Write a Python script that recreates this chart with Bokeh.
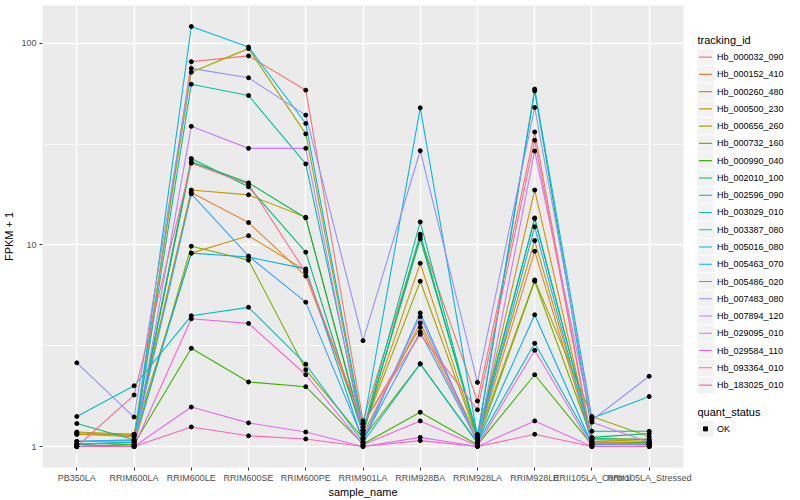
from bokeh.plotting import figure
from bokeh.models import Range1d, FixedTicker, BasicTickFormatter
from bokeh.layouts import row
from bokeh.embed import file_html
from bokeh.resources import INLINE
from bokeh.core.properties import value

# ---------------- data ----------------
categories = ["PB350LA", "RRIM600LA", "RRIM600LE", "RRIM600SE", "RRIM600PE",
              "RRIM901LA", "RRIM928BA", "RRIM928LA", "RRIM928LE",
              "RRII105LA_Control", "RRII105LA_Stressed"]

tracking_ids = ["Hb_000032_090", "Hb_000152_410", "Hb_000260_480", "Hb_000500_230",
                "Hb_000656_260", "Hb_000732_160", "Hb_000990_040", "Hb_002010_100",
                "Hb_002596_090", "Hb_003029_010", "Hb_003387_080", "Hb_005016_080",
                "Hb_005463_070", "Hb_005486_020", "Hb_007483_080", "Hb_007894_120",
                "Hb_029095_010", "Hb_029584_110", "Hb_093364_010", "Hb_183025_010"]

colors = ["#F8766D", "#EA8331", "#D89000", "#C09B00", "#A3A500", "#7CAE00", "#39B600",
          "#00BB4E", "#00BF7D", "#00C1A3", "#00BFC4", "#00BAE0", "#00B0F6", "#35A2FF",
          "#9590FF", "#C77CFF", "#E76BF3", "#FA62DB", "#FF62BC", "#FF6C91"]

# FPKM + 1 per tracking id, in category order
Hb_000032_090 = [1.00, 1.02, 81.0, 86.5, 58.5, 1.34, 11.0, 1.68, 36.3, 1.05, 1.03]
Hb_000152_410 = [1.15, 1.12, 18.2, 12.9, 7.0, 1.29, 3.9, 1.08, 9.3, 1.05, 1.05]
Hb_000260_480 = [1.15, 1.15, 9.1, 11.1, 7.45, 1.20, 8.1, 1.10, 18.7, 1.06, 1.04]
Hb_000500_230 = [1.17, 1.13, 18.7, 17.7, 13.7, 1.15, 4.1, 1.12, 10.5, 1.08, 1.06]
Hb_000656_260 = [1.18, 1.15, 71.8, 94.0, 35.5, 1.21, 6.6, 1.10, 6.7, 1.41, 1.12]
Hb_000732_160 = [1.00, 1.02, 9.85, 8.4, 2.4, 1.10, 2.57, 1.05, 6.6, 1.09, 1.09]
Hb_000990_040 = [1.00, 1.03, 3.07, 2.09, 1.98, 1.03, 1.48, 1.02, 2.27, 1.02, 1.05]
Hb_002010_100 = [1.02, 1.05, 25.8, 20.3, 13.6, 1.18, 10.7, 1.15, 13.5, 1.11, 1.16]
Hb_002596_090 = [1.30, 1.08, 26.8, 19.4, 9.2, 1.15, 11.3, 1.10, 58.0, 1.19, 1.19]
Hb_003029_010 = [1.03, 1.05, 62.6, 55.0, 25.2, 1.20, 13.0, 1.10, 13.6, 1.10, 1.08]
Hb_003387_080 = [1.41, 2.00, 4.45, 4.9, 2.56, 1.05, 2.57, 1.04, 3.25, 1.03, 1.02]
Hb_005016_080 = [1.03, 1.05, 121.0, 95.7, 40.0, 1.25, 47.8, 1.12, 59.2, 1.38, 1.77]
Hb_005463_070 = [1.06, 1.08, 9.1, 8.7, 7.6, 1.05, 4.6, 1.05, 4.5, 1.02, 1.02]
Hb_005486_020 = [1.06, 1.07, 17.9, 8.8, 5.2, 1.08, 3.7, 1.06, 12.3, 1.03, 1.02]
Hb_007483_080 = [2.60, 1.40, 75.0, 67.4, 44.0, 3.35, 29.3, 2.08, 48.0, 1.35, 2.23]
Hb_007894_120 = [1.00, 1.00, 38.7, 30.1, 30.1, 1.10, 4.4, 1.05, 29.2, 1.32, 1.05]
Hb_029095_010 = [1.00, 1.00, 1.57, 1.31, 1.18, 1.00, 1.11, 1.00, 1.34, 1.00, 1.00]
Hb_029584_110 = [1.00, 1.00, 4.3, 4.08, 2.27, 1.02, 1.34, 1.01, 3.0, 1.00, 1.00]
Hb_093364_010 = [1.00, 1.00, 1.25, 1.13, 1.09, 1.00, 1.07, 1.00, 1.15, 1.00, 1.00]
Hb_183025_010 = [1.00, 1.80, 25.4, 20.0, 7.3, 1.30, 3.6, 1.52, 33.0, 1.04, 1.03]

series = [Hb_000032_090, Hb_000152_410, Hb_000260_480, Hb_000500_230, Hb_000656_260,
          Hb_000732_160, Hb_000990_040, Hb_002010_100, Hb_002596_090, Hb_003029_010,
          Hb_003387_080, Hb_005016_080, Hb_005463_070, Hb_005486_020, Hb_007483_080,
          Hb_007894_120, Hb_029095_010, Hb_029584_110, Hb_093364_010, Hb_183025_010]

y_ticks = [1, 10, 100]
y_tick_labels = ["1", "10", "100"]

FONT = "Liberation Sans"
xpos = [i + 1 for i in range(len(categories))]

# frame placement (page pixels)
FRAME_TOP, FRAME_BOTTOM = 5, 468
MAIN_W, TOTAL_W, TOTAL_H = 692, 800, 500

# ---------------- main plot ----------------
p = figure(width=MAIN_W, height=TOTAL_H, output_backend="svg", toolbar_location=None,
           y_axis_type="log",
           x_range=Range1d(0.4, len(categories) + 0.6),
           y_range=Range1d(10 ** -0.104, 10 ** 2.187),
           min_border_left=40, min_border_right=9,
           min_border_top=FRAME_TOP, min_border_bottom=TOTAL_H - FRAME_BOTTOM)
p.background_fill_color = "#EBEBEB"
p.border_fill_color = "white"
p.outline_line_color = None

for vals, col in zip(series, colors):
    p.line(x=xpos, y=vals, line_color=col, line_width=1.1)

all_x, all_y = [], []
for vals in series:
    all_x += xpos
    all_y += vals
p.scatter(x=all_x, y=all_y, marker="circle", size=4, fill_color="black", line_color="black")

# grid
for g in (p.xgrid, p.ygrid):
    g.grid_line_color = "white"
    g.grid_line_width = 1.4
p.ygrid.minor_grid_line_color = "white"
p.ygrid.minor_grid_line_width = 0.7

# axes
p.xaxis.ticker = FixedTicker(ticks=xpos)
p.xaxis.major_label_overrides = {x: c for x, c in zip(xpos, categories)}
p.yaxis.ticker = FixedTicker(ticks=y_ticks, minor_ticks=[10 ** 0.5, 10 ** 1.5])
p.yaxis.formatter = BasicTickFormatter()
p.yaxis.major_label_overrides = {t: l for t, l in zip(y_ticks, y_tick_labels)}
p.xaxis.axis_label = "sample_name"
p.yaxis.axis_label = "FPKM + 1"
for ax in (p.xaxis, p.yaxis):
    ax.axis_line_color = None
    ax.major_tick_line_color = "#333333"
    ax.major_tick_out = 3
    ax.major_tick_in = 0
    ax.minor_tick_line_color = None
    ax.major_label_text_font = FONT
    ax.major_label_text_font_size = "9px"
    ax.major_label_text_color = "#4D4D4D"
    ax.major_label_standoff = 2
    ax.axis_label_text_font = FONT
    ax.axis_label_text_font_size = "11px"
    ax.axis_label_text_font_style = "normal"
    ax.axis_label_text_color = "black"
p.xaxis.axis_label_standoff = 0
p.yaxis.axis_label_standoff = 3

# ---------------- legend panel ----------------
# frames in a row are aligned, so the legend frame spans FRAME_TOP..FRAME_BOTTOM
lg = figure(width=TOTAL_W - MAIN_W, height=TOTAL_H, output_backend="svg", toolbar_location=None,
            x_range=Range1d(MAIN_W, TOTAL_W), y_range=Range1d(FRAME_BOTTOM, FRAME_TOP),
            x_axis_type=None, y_axis_type=None, min_border=0,
            min_border_top=FRAME_TOP, min_border_bottom=TOTAL_H - FRAME_BOTTOM)
lg.grid.visible = False
lg.outline_line_color = None
lg.background_fill_color = "white"
lg.border_fill_color = "white"

step = 17.3
y0 = 56.7
ys = [y0 + step * i for i in range(len(tracking_ids))]
lg.rect(x=[705] * len(ys), y=ys, width=16.5, height=16.3, fill_color="#F2F2F2", line_color=None)
lg.segment(x0=[698.5] * len(ys), y0=ys, x1=[711.5] * len(ys), y1=ys, line_color=colors, line_width=1.1)
lg.text(x=[716.5] * len(ys), y=ys, text=tracking_ids, text_font=value(FONT), text_font_size="9px",
        text_baseline="middle", text_align="left", text_color="black")
lg.text(x=[697, 697], y=[40, 412.5], text=["tracking_id", "quant_status"], text_font=value(FONT),
        text_font_size="11px", text_baseline="middle", text_align="left", text_color="black")
lg.rect(x=[705], y=[429.3], width=16.5, height=16.3, fill_color="#F2F2F2", line_color=None)
lg.scatter(x=[705], y=[429.3], marker="square", size=4, fill_color="black", line_color="black")
lg.text(x=[716.5], y=[429.3], text=["OK"], text_font=value(FONT), text_font_size="9px",
        text_baseline="middle", text_align="left", text_color="black")

layout = row(p, lg)
open("out.html", "w").write(file_html(layout, INLINE))
